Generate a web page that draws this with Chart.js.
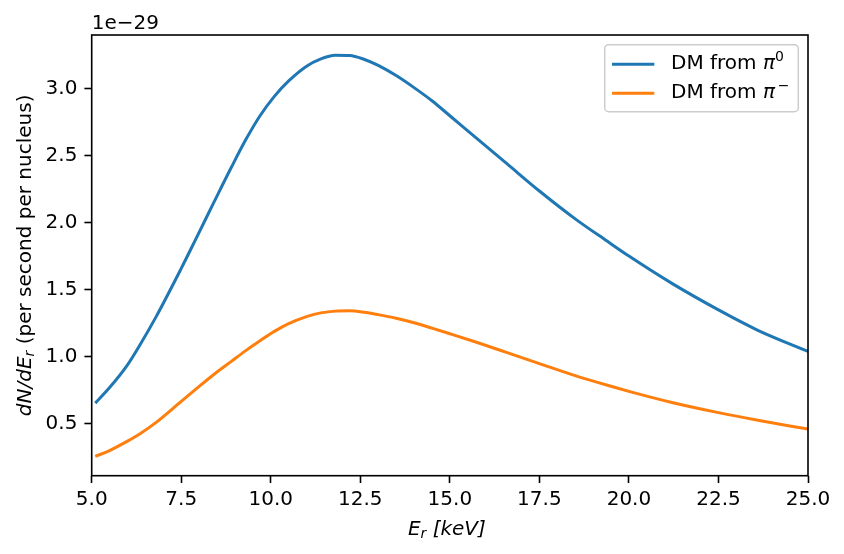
<!DOCTYPE html>
<html>
<head>
<meta charset="utf-8">
<script src="https://cdn.jsdelivr.net/npm/chart.js@4/dist/chart.umd.min.js"></script>
<style>
html,body{margin:0;padding:0;background:#fff;}
#wrap{width:844px;height:554px;position:relative;}
</style>
</head>
<body>
<div id="wrap"><canvas id="c" width="844" height="554"></canvas></div>
<script>
// Recoil energy E_r [keV]
const energies = [5.1, 5.5, 6.0, 6.35, 6.8, 7.5, 7.9, 8.4, 8.9, 9.3, 9.7, 10.1, 10.5, 11.0, 11.4, 11.8, 12.2, 12.6, 13.0, 13.5, 14.0, 14.5, 15.0, 15.7, 16.6, 17.5, 18.5, 19.4, 20.0, 21.2, 22.5, 23.6, 25.0];
// dN/dE_r in units of 1e-29
const dmFromPi0 = [0.654, 0.77, 0.94, 1.09, 1.30, 1.66, 1.875, 2.147, 2.415, 2.62, 2.80, 2.945, 3.06, 3.17, 3.225, 3.252, 3.25, 3.222, 3.176, 3.10, 3.01, 2.912, 2.80, 2.642, 2.44, 2.238, 2.03, 1.862, 1.752, 1.548, 1.35, 1.198, 1.04];
const dmFromPiMinus = [0.256, 0.30, 0.37, 0.425, 0.51, 0.667, 0.756, 0.866, 0.966, 1.046, 1.12, 1.19, 1.248, 1.300, 1.328, 1.341, 1.343, 1.333, 1.315, 1.288, 1.254, 1.214, 1.172, 1.112, 1.031, 0.949, 0.859, 0.787, 0.742, 0.659, 0.583, 0.526, 0.46];
const xTicks = [5.0, 7.5, 10.0, 12.5, 15.0, 17.5, 20.0, 22.5, 25.0];
const yTicks = [0.5, 1.0, 1.5, 2.0, 2.5, 3.0];
const seriesNames = ['DM from ', 'DM from '];
const seriesSup = ['0', '\u2212'];
const offsetText = '1e\u221229';

const FONT = '"DejaVu Sans", sans-serif';
const FS = 20;

function pts(xs, ys){ return xs.map((x,i)=>({x:x, y:ys[i]})); }

function drawRuns(ctx, runs, x, y, align){
  let w = 0;
  runs.forEach(r=>{ ctx.font = r.font; r.w = ctx.measureText(r.text).width; w += r.w; });
  let cx = align === 'center' ? x - w/2 : (align === 'right' ? x - w : x);
  ctx.textAlign = 'left';
  ctx.textBaseline = 'alphabetic';
  runs.forEach(r=>{ ctx.font = r.font; ctx.fillText(r.text, cx, y + (r.dy||0)); cx += r.w; });
}

const decor = {
  id: 'decor',
  afterDraw(chart){
    const ctx = chart.ctx, a = chart.chartArea;
    ctx.save();
    // frame
    ctx.strokeStyle = '#000';
    ctx.lineWidth = 1.6;
    ctx.strokeRect(a.left, a.top, a.right - a.left, a.bottom - a.top);
    ctx.fillStyle = '#000';
    const it = 'italic ' + FS + 'px ' + FONT;
    const rg = FS + 'px ' + FONT;
    const sub = 'italic 14px ' + FONT;
    // x title
    drawRuns(ctx, [
      {text:'E', font:it},
      {text:'r', font:sub, dy:3},
      {text:' [keV]', font:it}
    ], (a.left + a.right)/2 - 3, 535, 'center');
    // y title
    ctx.save();
    ctx.translate(31, (a.top + a.bottom)/2);
    ctx.rotate(-Math.PI/2);
    drawRuns(ctx, [
      {text:'dN/dE', font:it},
      {text:'r', font:sub, dy:3},
      {text:' (per second per nucleus)', font:rg}
    ], 0, 0, 'center');
    ctx.restore();
    // offset text
    drawRuns(ctx, [{text:offsetText, font:rg}], a.left, 29, 'left');
    // legend
    const lx = 604.7, ly = 44.7, lw = 193.6, lh = 67, r = 4;
    ctx.beginPath();
    ctx.moveTo(lx + r, ly);
    ctx.arcTo(lx + lw, ly, lx + lw, ly + lh, r);
    ctx.arcTo(lx + lw, ly + lh, lx, ly + lh, r);
    ctx.arcTo(lx, ly + lh, lx, ly, r);
    ctx.arcTo(lx, ly, lx + lw, ly, r);
    ctx.closePath();
    ctx.fillStyle = 'rgba(255,255,255,0.8)';
    ctx.fill();
    ctx.strokeStyle = '#cccccc';
    ctx.lineWidth = 1.5;
    ctx.stroke();
    const rows = [64.3, 93.3];
    chart.data.datasets.forEach((ds, i)=>{
      ctx.strokeStyle = ds.borderColor;
      ctx.lineWidth = ds.borderWidth;
      ctx.beginPath();
      ctx.moveTo(612, rows[i]);
      ctx.lineTo(654.3, rows[i]);
      ctx.stroke();
      ctx.fillStyle = '#000';
      drawRuns(ctx, [
        {text:seriesNames[i], font:rg},
        {text:'\u03c0', font:it},
        {text:(i === 1 ? '\u2009' : '') + seriesSup[i], font:'14px ' + FONT, dy:-8}
      ], 671, rows[i] + 5, 'left');
    });
    ctx.restore();
  }
};

new Chart(document.getElementById('c'), {
  type: 'line',
  data: {
    datasets: [
      {label:'DM from \u03c0\u2070', data: pts(energies, dmFromPi0), borderColor:'#1f77b4', borderWidth:3, pointRadius:0, fill:false, cubicInterpolationMode:'monotone'},
      {label:'DM from \u03c0\u207b', data: pts(energies, dmFromPiMinus), borderColor:'#ff7f0e', borderWidth:3, pointRadius:0, fill:false, cubicInterpolationMode:'monotone'}
    ]
  },
  options: {
    responsive: false,
    animation: false,
    events: [],
    layout: {padding: {left: 0, top: 35, right: 36, bottom: 0}},
    plugins: {legend: {display: false}, tooltip: {enabled: false}},
    scales: {
      x: {
        type: 'linear', min: 5.0, max: 25.0,
        afterFit(s){ s.height = 78.3; },
        afterBuildTicks(s){ s.ticks = xTicks.map(v=>({value:v})); },
        border: {display: false},
        grid: {display: true, drawOnChartArea: false, drawTicks: true, tickLength: 7.3, tickWidth: 1.6, tickColor: '#000'},
        ticks: {color:'#000', font:{family: FONT, size: FS}, padding: 5, maxRotation: 0, callback: v => v.toFixed(1)}
      },
      y: {
        type: 'linear', min: 0.112, max: 3.403,
        afterFit(s){ s.width = 91.7; },
        afterBuildTicks(s){ s.ticks = yTicks.map(v=>({value:v})); },
        border: {display: false},
        grid: {display: true, drawOnChartArea: false, drawTicks: true, tickLength: 7.3, tickWidth: 1.6, tickColor: '#000'},
        ticks: {color:'#000', font:{family: FONT, size: FS}, padding: 7, callback: v => v.toFixed(1)}
      }
    }
  },
  plugins: [decor]
});
</script>
</body>
</html>
